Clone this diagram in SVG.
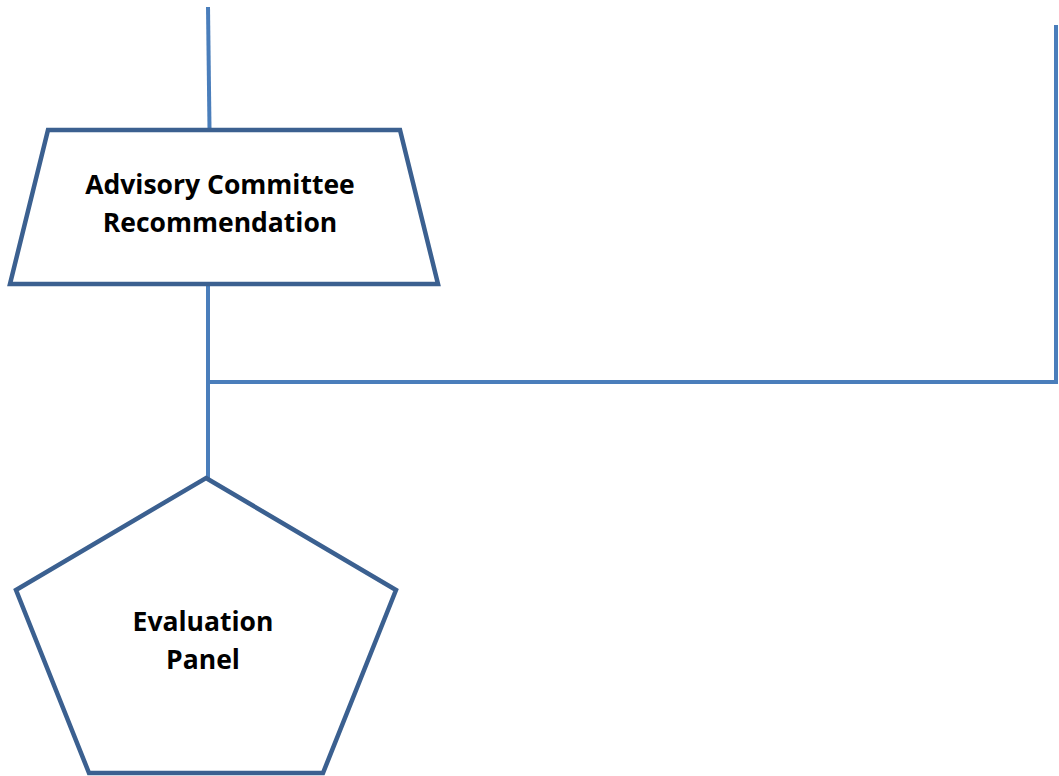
<svg xmlns="http://www.w3.org/2000/svg" width="1059" height="776" viewBox="0 0 1059 776">
<style>
.node{fill:#ffffff;stroke:#3b6090;stroke-width:4.5;stroke-linejoin:miter}
.conn{fill:none;stroke:#4a7ebb;stroke-width:4}
.lbl{font-family:"Open Sans","Noto Sans",sans-serif;font-weight:bold;font-size:26.5px;fill:#000;text-anchor:middle}
</style>
<rect width="1059" height="776" fill="#ffffff"/>
<g id="connectors">
<line class="conn" x1="208" y1="7" x2="209.5" y2="129"/>
<line class="conn" x1="208" y1="284" x2="208" y2="478"/>
<polyline class="conn" points="208,382 1056,382 1056,25"/>
</g>
<g id="advisory">
<polygon class="node" points="48,130 400,130 438,284 10,284"/>
<text class="lbl" x="220" y="194">Advisory Committee</text>
<text class="lbl" x="220" y="232">Recommendation</text>
</g>
<g id="evaluation">
<polygon class="node" points="206,478 396,590 323,773 89,773 16,590"/>
<text class="lbl" x="203" y="631">Evaluation</text>
<text class="lbl" x="203" y="669">Panel</text>
</g>
</svg>
